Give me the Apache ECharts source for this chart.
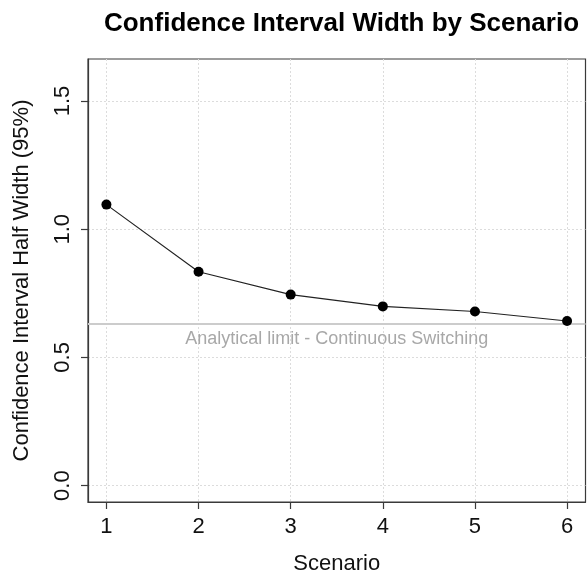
<!DOCTYPE html>
<html>
<head>
<meta charset="utf-8">
<script src="https://cdn.jsdelivr.net/npm/echarts@6/dist/echarts.min.js"></script>
<style>
html,body{margin:0;padding:0;background:#fff;}
#chart{width:587px;height:574px;}
</style>
</head>
<body>
<div id="chart"></div>
<script>
// Data
var scenarios = [1, 2, 3, 4, 5, 6];
var halfWidths = [1.096, 0.834, 0.745, 0.699, 0.679, 0.642];
var analyticalLimit = 0.633;
var analyticalLabel = 'Analytical limit - Continuous Switching';
var xTicks = [1, 2, 3, 4, 5, 6];
var yTicks = [0, 0.5, 1.0, 1.5];
var titleText = 'Confidence Interval Width by Scenario';
var xName = 'Scenario';
var yName = 'Confidence Interval Half Width (95%)';

var FONT = '"Liberation Sans", Arial, Helvetica, sans-serif';
var chart = echarts.init(document.getElementById('chart'), null, {renderer: 'canvas'});

var points = scenarios.map(function (s, i) { return [s, halfWidths[i]]; });

chart.setOption({
  animation: false,
  backgroundColor: '#ffffff',
  title: {
    text: titleText,
    left: 336.5,
    top: 6,
    textAlign: 'center',
    textStyle: {fontFamily: FONT, fontSize: 26, fontWeight: 'bold', color: '#000'}
  },
  grid: {
    left: 88, right: 1.5, top: 59, bottom: 72,
    containLabel: false,
    outerBoundsMode: 'none',
    show: true, borderColor: '#3a3a3a', borderWidth: 1.2, backgroundColor: 'transparent'
  },
  xAxis: {
    type: 'value',
    min: 0.8, max: 6.2,
    name: xName,
    nameLocation: 'middle',
    nameGap: 51,
    nameTextStyle: {fontFamily: FONT, fontSize: 22, color: '#111'},
    axisLine: {show: true, onZero: false, lineStyle: {color: '#3a3a3a', width: 1.2}},
    axisTick: {show: true, length: 7, customValues: xTicks, lineStyle: {color: '#3a3a3a', width: 1.2}},
    axisLabel: {show: true, customValues: xTicks, margin: 14, fontFamily: FONT, fontSize: 22, color: '#111',
      formatter: function (v) { return String(v); }},
    splitLine: {show: true, lineStyle: {color: '#dcdcdc', type: [2, 2], width: 1}}
  },
  yAxis: {
    type: 'value',
    min: -0.064, max: 1.664,
    name: yName,
    nameLocation: 'middle',
    nameGap: 55,
    nameRotate: 90,
    nameTextStyle: {fontFamily: FONT, fontSize: 22, color: '#111'},
    axisLine: {show: true, onZero: false, lineStyle: {color: '#3a3a3a', width: 1.2}},
    axisTick: {show: true, length: 7, customValues: yTicks, lineStyle: {color: '#3a3a3a', width: 1.2}},
    axisLabel: {show: true, customValues: yTicks, rotate: 90, margin: 14, fontFamily: FONT, fontSize: 22, color: '#111',
      formatter: function (v) { return v.toFixed(1); }},
    splitLine: {show: true, lineStyle: {color: '#dcdcdc', type: [2, 2], width: 1}}
  },
  series: [{
    type: 'line',
    data: points,
    symbol: 'circle',
    symbolSize: 10,
    itemStyle: {color: '#000'},
    lineStyle: {color: '#222', width: 1.2},
    z: 3,
    markLine: {
      silent: true,
      symbol: ['none', 'none'],
      z: 2,
      lineStyle: {color: '#cccccc', type: 'solid', width: 2},
      label: {
        show: true,
        position: 'insideMiddleBottom',
        distance: 6,
        formatter: analyticalLabel,
        fontFamily: FONT, fontSize: 18, color: '#a8a8a8'
      },
      data: [{yAxis: analyticalLimit}]
    }
  }]
});
</script>
</body>
</html>
